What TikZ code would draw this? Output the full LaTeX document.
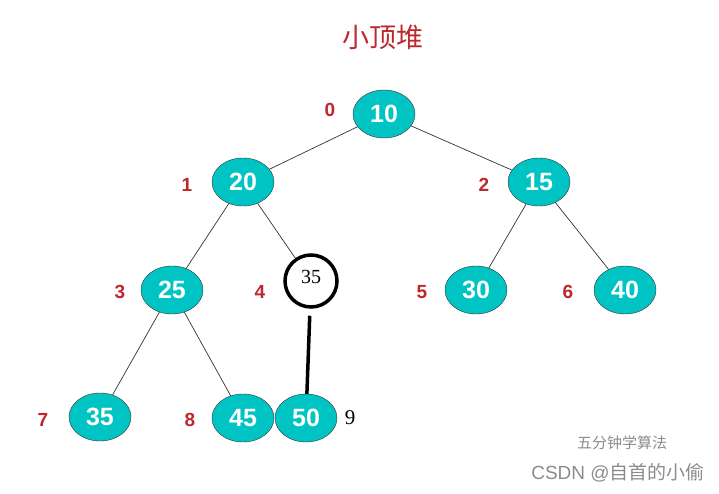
\documentclass[tikz,border=0pt]{standalone}
\usepackage{fontspec}
\setmainfont{Liberation Sans}
\newfontfamily\cjk{Noto Sans CJK SC}
\newfontfamily\serifnum{Liberation Serif}
\usetikzlibrary{shapes.geometric}
\definecolor{teal1}{RGB}{0,196,196}
\definecolor{redl}{RGB}{190,40,45}
\tikzset{
  hn/.style={ellipse,draw=black!80,fill=teal1,minimum width=62pt,minimum height=48pt,inner sep=0pt,text=white,font=\bfseries\fontsize{25}{25}\selectfont},
  idx/.style={text=redl,font=\bfseries\fontsize{19}{19}\selectfont},
  edge/.style={draw=black!80,line width=0.7pt}
}
\begin{document}
\begin{tikzpicture}[x=1pt,y=-1pt]
\useasboundingbox[fill=white] (0,0) rectangle (719,494);
\node[text=redl,font=\cjk\fontsize{27}{27}\selectfont] (title) at (383,37) {小顶堆};
\node[hn] (n0) at (384,114) {10};
\node[hn] (n1) at (243,182) {20};
\node[hn] (n2) at (539,182) {15};
\node[hn] (n3) at (172,290) {25};
\node[circle,draw=black,line width=3.5pt,minimum size=52pt,inner sep=0pt,font=\serifnum\fontsize{20}{20}\selectfont] (n4) at (311,281) {\raisebox{8pt}{35}};
\node[hn] (n5) at (476,290) {30};
\node[hn] (n6) at (625,290) {40};
\node[hn] (n7) at (100,417) {35};
\node[hn] (n8) at (243,418) {45};
\node[hn] (n9) at (306,418) {50};
\node[idx] (l0) at (330,110) {0};
\node[idx] (l1) at (187,185) {1};
\node[idx] (l2) at (484,185) {2};
\node[idx] (l3) at (120,292) {3};
\node[idx] (l4) at (260,292) {4};
\node[idx] (l5) at (422,292) {5};
\node[idx] (l6) at (568,292) {6};
\node[idx] (l7) at (43,420) {7};
\node[idx] (l8) at (190,420) {8};
\node[font=\serifnum\fontsize{21}{21}\selectfont] (l9) at (350,418) {9};
\draw[edge] (n0) -- (n1);
\draw[edge] (n0) -- (n2);
\draw[edge] (n1) -- (n3);
\draw[edge] (n1) -- (n4);
\draw[edge] (n2) -- (n5);
\draw[edge] (n2) -- (n6);
\draw[edge] (n3) -- (n7);
\draw[edge] (n3) -- (n8);
\draw[line width=3.5pt,shorten <=7pt] (n4) -- (n9);
\node[text=black!45,font=\cjk\fontsize{15}{15}\selectfont] (wm1) at (622,443) {五分钟学算法};
\node[text=black!45,font=\fontsize{19}{19}\selectfont] (wm2) at (618,473) {CSDN @{\cjk 自首的小偷}};
\end{tikzpicture}
\end{document}
